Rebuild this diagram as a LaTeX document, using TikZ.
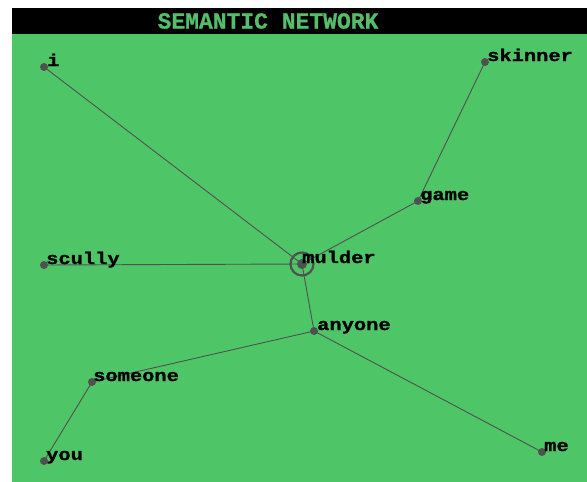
\documentclass[tikz,border=0pt]{standalone}
\usepackage{fontspec}
\setmonofont{Liberation Mono}
\usetikzlibrary{positioning}
\definecolor{field}{RGB}{78,198,104}
\definecolor{wire}{RGB}{80,80,80}
\definecolor{headgreen}{RGB}{84,190,104}

\begin{document}
\begin{tikzpicture}[x=1pt,y=-1pt,
 dot/.style={circle,fill=wire,inner sep=0pt,minimum size=8pt},
 word/.style={anchor=base west,inner sep=0pt,font=\ttfamily\bfseries\fontsize{17}{18}\selectfont\addfontfeature{FakeStretch=1.2,FakeBold=1.2}},
 link/.style={draw=wire,line width=0.9pt}]
\useasboundingbox (0,0) rectangle (587,482);
\fill[white] (0,0) rectangle (587,482);
\fill[field] (12,34) rectangle (587,482);
\fill[black] (12,8) rectangle (587,34);
\node[font=\ttfamily\bfseries\fontsize{23}{24}\selectfont\addfontfeature{FakeBold=0.8},text=headgreen] (title) at (268,21) {SEMANTIC NETWORK};
% word nodes
\node[dot] (i) at (44,67) {};
\node[dot] (skinner) at (485,62) {};
\node[dot] (game) at (418,201) {};
\node[dot,minimum size=10pt] (mulder) at (302,264) {};
\node[dot] (scully) at (44,265) {};
\node[dot] (anyone) at (314,331) {};
\node[dot] (someone) at (92,382) {};
\node[dot] (you) at (44,461) {};
\node[dot] (me) at (542,452) {};
\node[circle,draw=wire,line width=2.2pt,minimum size=23pt] (focus) at (mulder) {};
% links
\draw[link] (i.center) -- (mulder.center);
\draw[link] (skinner.center) -- (game.center);
\draw[link] (game.center) -- (mulder.center);
\draw[link] (scully.center) -- (mulder.center);
\draw[link] (mulder.center) -- (anyone.center);
\draw[link] (anyone.center) -- (someone.center);
\draw[link] (anyone.center) -- (me.center);
\draw[link] (someone.center) -- (you.center);
% labels
\node[word] (i-t) at ([shift={(3,-1)}]i.center) {i};
\node[word] (skinner-t) at ([shift={(2,-1)}]skinner.center) {skinner};
\node[word] (game-t) at ([shift={(2,-1)}]game.center) {game};
\node[word] (mulder-t) at ([shift={(0,-1)}]mulder.center) {mulder};
\node[word] (scully-t) at ([shift={(2,-1)}]scully.center) {scully};
\node[word] (anyone-t) at ([shift={(3,-1)}]anyone.center) {anyone};
\node[word] (someone-t) at ([shift={(1,-1)}]someone.center) {someone};
\node[word] (you-t) at ([shift={(2,-1)}]you.center) {you};
\node[word] (me-t) at ([shift={(2,-1)}]me.center) {me};
\end{tikzpicture}
\end{document}
